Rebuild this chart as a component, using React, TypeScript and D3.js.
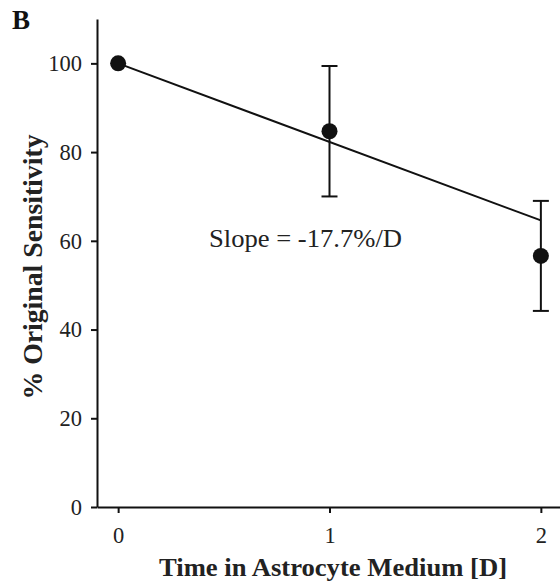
import React, { useEffect, useRef } from 'react';
import * as d3 from 'd3';

// days in astrocyte medium
const days = [0, 1, 2];
const meanSensitivity = [100, 84.7, 56.6];
const errSensitivity = [0, 14.7, 12.4];
const yTicks = [0, 20, 40, 60, 80, 100];
const xTicks = [0, 1, 2];
const fitIntercept = 100;
const fitSlope = -17.7;

const W = 560;
const H = 582;
const FONT = '"Liberation Serif", "Times New Roman", serif';

export default function App() {
  const ref = useRef<SVGSVGElement>(null);

  useEffect(() => {
    const svg = d3.select(ref.current);
    svg.selectAll('*').remove();

    const x = d3.scaleLinear().domain([-0.1, 2.1]).range([97, 562]);
    const y = d3.scaleLinear().domain([0, 110]).range([507, 19]);

    // axes
    const yAxis = svg.append('g')
      .attr('transform', 'translate(' + x(-0.1) + ',0)')
      .call(d3.axisLeft(y).tickValues(yTicks).tickSize(6).tickSizeOuter(0).tickPadding(9));
    const xAxis = svg.append('g')
      .attr('transform', 'translate(0,' + y(0) + ')')
      .call(d3.axisBottom(x).tickValues(xTicks).tickFormat(d3.format('d')).tickSize(6).tickSizeOuter(0).tickPadding(14));

    [yAxis, xAxis].forEach(a => {
      a.selectAll('path, line').attr('stroke', '#111').attr('stroke-width', 2);
      a.selectAll('text')
        .attr('font-family', FONT)
        .attr('font-size', 22.5)
        .attr('fill', '#222');
    });

    // fitted line
    const line = d3.line<number>()
      .x(d => x(d))
      .y(d => y(fitIntercept + fitSlope * d));
    svg.append('path')
      .attr('d', line([days[0], days[days.length - 1]]))
      .attr('fill', 'none')
      .attr('stroke', '#111')
      .attr('stroke-width', 2);

    // error bars
    const eb = svg.append('g').attr('stroke', '#111').attr('stroke-width', 2);
    days.forEach((d, i) => {
      if (!errSensitivity[i]) return;
      const lo = y(meanSensitivity[i] - errSensitivity[i]);
      const hi = y(meanSensitivity[i] + errSensitivity[i]);
      eb.append('line').attr('x1', x(d)).attr('x2', x(d)).attr('y1', lo).attr('y2', hi);
      eb.append('line').attr('x1', x(d) - 8).attr('x2', x(d) + 8).attr('y1', lo).attr('y2', lo);
      eb.append('line').attr('x1', x(d) - 8).attr('x2', x(d) + 8).attr('y1', hi).attr('y2', hi);
    });

    // points
    svg.append('g')
      .selectAll('circle')
      .data(days)
      .enter()
      .append('circle')
      .attr('cx', d => x(d))
      .attr('cy', (d, i) => y(meanSensitivity[i]))
      .attr('r', 8)
      .attr('fill', '#111');

    // labels
    svg.append('text')
      .attr('x', 209).attr('y', 247)
      .attr('textLength', 193).attr('lengthAdjust', 'spacingAndGlyphs')
      .attr('font-family', FONT).attr('font-size', 25).attr('fill', '#222')
      .text('Slope = -17.7%/D');

    svg.append('text')
      .attr('transform', 'translate(42,267) rotate(-90)')
      .attr('text-anchor', 'middle')
      .attr('textLength', 265).attr('lengthAdjust', 'spacingAndGlyphs')
      .attr('font-family', FONT).attr('font-size', 28).attr('font-weight', 'bold').attr('fill', '#222')
      .text('% Original Sensitivity');

    svg.append('text')
      .attr('x', 333).attr('y', 576)
      .attr('text-anchor', 'middle')
      .attr('textLength', 348).attr('lengthAdjust', 'spacingAndGlyphs')
      .attr('font-family', FONT).attr('font-size', 25).attr('font-weight', 'bold').attr('fill', '#222')
      .text('Time in Astrocyte Medium [D]');

    svg.append('text')
      .attr('x', 12).attr('y', 29)
      .attr('font-family', FONT).attr('font-size', 27).attr('font-weight', 'bold').attr('fill', '#111')
      .text('B');
  }, []);

  return (
    <svg ref={ref} width={W} height={H}
      style={{ position: 'absolute', left: 0, top: 0, background: '#fff' }} />
  );
}
